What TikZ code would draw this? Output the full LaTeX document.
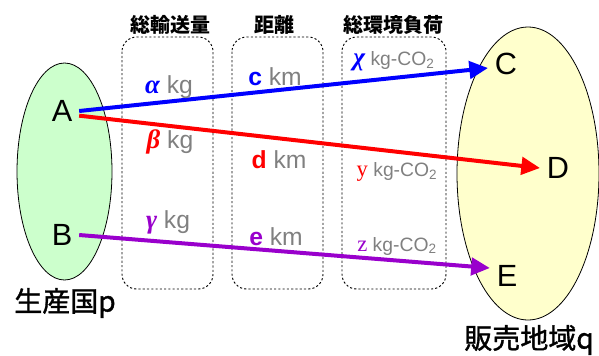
\documentclass[tikz,border=0pt]{standalone}
\usepackage{fontspec}
\setmainfont{Liberation Sans}
\newfontfamily\jp{Noto Sans CJK JP}
\newfontfamily\jpmed{Noto Sans CJK JP}[FakeBold=1.3]
\newfontfamily\tnr{Liberation Serif}
\newcommand\grkfont{\fontsize{20}{20}\selectfont\tnr\bfseries\itshape}
\usetikzlibrary{shapes.geometric,arrows.meta}
\definecolor{lgreen}{HTML}{CCFFCC}
\definecolor{lyellow}{HTML}{FFFFCC}
\definecolor{purp}{HTML}{9900CC}
\definecolor{gtxt}{HTML}{808080}
\begin{document}
\begin{tikzpicture}[x=0.75pt,y=-0.75pt]
\useasboundingbox (0,0) rectangle (599,355);
\tikzset{
 letter/.style={font=\fontsize{23}{23}\selectfont, inner xsep=5pt, inner ysep=0pt},
 lbl/.style={font=\fontsize{18.5}{18.5}\selectfont, inner sep=0pt, text=gtxt},
 lblsmall/.style={font=\fontsize{14.5}{14.5}\selectfont, inner sep=0pt, text=gtxt},
 hdr/.style={font=\jp\bfseries\fontsize{15}{15}\selectfont, inner sep=0pt},
 region/.style={font=\jpmed\fontsize{21}{21}\selectfont, inner sep=0pt},
 grpbox/.style={draw, dash pattern=on 1.6pt off 1.6pt, rounded corners=11pt, line width=0.7pt},
 blob/.style={ellipse, draw, line width=0.6pt, inner sep=0pt},
 flow/.style={line width=3pt, -{Triangle[length=14pt,width=13pt]}},
}
% regions
\node[blob, fill=lgreen, minimum width=71.25pt, minimum height=162.75pt] (P) at (64.5,171.5) {};
\node[blob, fill=lyellow, minimum width=106.5pt, minimum height=219.75pt] (Q) at (528,173.5) {};
% dashed group boxes
\draw[grpbox] (122,37) rectangle (213,289);
\draw[grpbox] (232,37) rectangle (323,289);
\draw[grpbox] (342,37) rectangle (446,289);
% headers
\node[hdr] (h1) at (170,25) {総輸送量};
\node[hdr] (h2) at (274,25) {距離};
\node[hdr] (h3) at (393,25) {総環境負荷};
% region labels
\node[region] (lp) at (65,303) {生産国p};
\node[region] (lq) at (529,340) {販売地域q};
% letters
\node[letter] (A) at (62,111) {A};
\node[letter] (B) at (62,235) {B};
\node[letter] (C) at (506,64) {C};
\node[letter] (D) at (558,168) {D};
\node[letter] (E) at (507,276) {E};
% flows
\draw[flow, blue] (A.east) -- ([yshift=-3pt]C.west);
\draw[flow, red] ([yshift=-3.5pt]A.east) -- (D.west);
\draw[flow, purp] (B.east) -- ([yshift=6pt]E.west);
% labels
\node[lbl] (la) at (169,87) {{\grkfont\color{blue}α} kg};
\node[lbl] (lb) at (170,142) {{\grkfont\color{red}β} kg};
\node[lbl] (lg) at (168,222) {{\grkfont\color{purp}γ} kg};
\node[lbl] (lc) at (275,77) {{\bfseries\color{blue}c} km};
\node[lbl] (ld) at (279,160) {{\bfseries\color{red}d} km};
\node[lbl] (le) at (276,237) {{\bfseries\color{purp}e} km};
\node[lblsmall] (lx) at (394,61) {{\grkfont\fontsize{19}{19}\selectfont\color{blue}χ} kg-CO\textsubscript{2}};
\node[lblsmall] (ly) at (397,172) {{\fontsize{17}{17}\selectfont\tnr\color{red}y} kg-CO\textsubscript{2}};
\node[lblsmall] (lz) at (397,246) {{\fontsize{17}{17}\selectfont\tnr\color{purp}z} kg-CO\textsubscript{2}};
\end{tikzpicture}
\end{document}
